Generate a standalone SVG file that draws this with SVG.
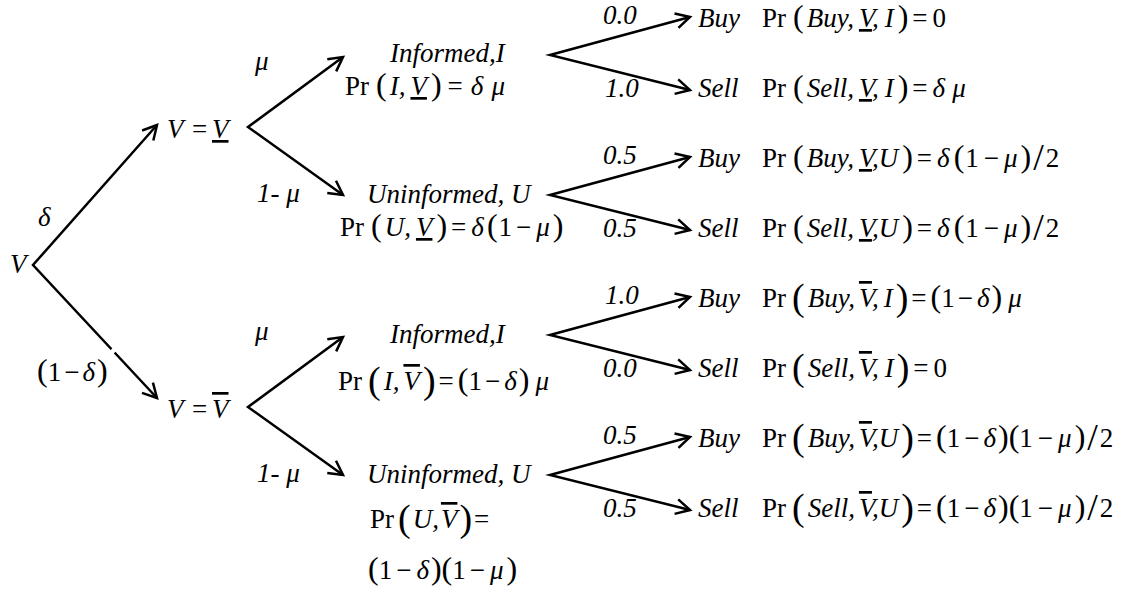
<svg xmlns="http://www.w3.org/2000/svg" width="1126" height="590" viewBox="0 0 1126 590">
<style>
text{font-family:"Liberation Serif","Times New Roman",serif;font-size:27px;fill:#000}
.i{font-style:italic}
.p{font-size:32px}
.pl{font-size:38px}
.ul{text-decoration:underline}
.ol{text-decoration:overline}
.c{fill:none;stroke:#000;stroke-width:2.5;stroke-linejoin:miter;marker-start:url(#ah);marker-end:url(#ah)}
</style>
<defs>
<marker id="ah" viewBox="-18 -10 22 20" refX="0" refY="0" markerWidth="22" markerHeight="20" markerUnits="userSpaceOnUse" orient="auto-start-reverse">
<path d="M-14,-7.5 L0,0 L-14,7.5" fill="none" stroke="#000" stroke-width="2.5"/>
</marker>
</defs>
<g id="connectors">
<path class="c" d="M157,125 L33,265 L157,398"/>
<line x1="111.4" y1="349.2" x2="114.6" y2="352.6" stroke="#fff" stroke-width="5"/>
<path class="c" d="M343,57 L248,127 L343,195"/>
<path class="c" d="M343,337 L248,407 L343,475"/>
<path class="c" d="M690,17 L550,55 L690,90"/>
<path class="c" d="M690,157 L550,195 L690,230"/>
<path class="c" d="M690,297 L550,335 L690,370"/>
<path class="c" d="M690,437 L550,475 L690,510"/>
</g>
<g id="edge-labels">
<text x="38" y="226" class="i">δ</text>
<text x="37" y="381"><tspan class="p">(</tspan>1<tspan dx="3">−</tspan><tspan class="i" dx="3">δ</tspan><tspan class="p" dx="2">)</tspan></text>
<text x="255" y="70" class="i">μ</text>
<text x="257" y="202" class="i">1- μ</text>
<text x="255" y="340" class="i">μ</text>
<text x="257" y="482" class="i">1- μ</text>
<text x="603" y="24" class="i">0.0</text>
<text x="605" y="97" class="i">1.0</text>
<text x="603" y="164" class="i">0.5</text>
<text x="603" y="237" class="i">0.5</text>
<text x="605" y="304" class="i">1.0</text>
<text x="603" y="377" class="i">0.0</text>
<text x="603" y="444" class="i">0.5</text>
<text x="603" y="517" class="i">0.5</text>
</g>
<g id="node-root"><text x="10" y="273" class="i">V</text></g>
<g id="node-vlow"><text y="138"><tspan x="167" class="i">V</tspan><tspan x="192">=</tspan><tspan x="212" class="i ul">V</tspan></text></g>
<g id="node-vhigh"><text y="418"><tspan x="167" class="i">V</tspan><tspan x="192">=</tspan><tspan x="212" class="i ol">V</tspan></text></g>
<g id="node-informed-low">
<text x="390" y="62" class="i">Informed,I</text>
<text x="345" y="95">Pr<tspan class="p" dx="7">(</tspan><tspan class="i" dx="3">I,</tspan><tspan class="i ul" dx="5">V</tspan><tspan class="p" dx="4">)</tspan><tspan dx="6">=</tspan><tspan class="i" dx="8">δ</tspan><tspan class="i" dx="8">μ</tspan></text>
</g>
<g id="node-uninformed-low">
<text x="367" y="203" class="i">Uninformed, U</text>
<text x="340" y="236">Pr<tspan class="p" dx="7">(</tspan><tspan class="i" dx="3">U,</tspan><tspan class="i ul" dx="5">V</tspan><tspan class="p" dx="4">)</tspan><tspan dx="4">=</tspan><tspan class="i" dx="5">δ</tspan><tspan class="p" dx="3">(</tspan><tspan dx="1">1</tspan><tspan dx="4">−</tspan><tspan class="i" dx="5">μ</tspan><tspan class="p" dx="3">)</tspan></text>
</g>
<g id="node-informed-high">
<text x="390" y="343" class="i">Informed,I</text>
<text x="338" y="390">Pr<tspan class="pl" dx="6" baseline-shift="-3">(</tspan><tspan class="i" dx="3">I,</tspan><tspan class="i ol" dx="4">V</tspan><tspan class="pl" dx="3" baseline-shift="-3">)</tspan><tspan dx="3">=</tspan><tspan class="p" dx="4">(</tspan>1<tspan dx="3">−</tspan><tspan class="i" dx="4">δ</tspan><tspan class="p" dx="2">)</tspan><tspan class="i" dx="6">μ</tspan></text>
</g>
<g id="node-uninformed-high">
<text x="367" y="483" class="i">Uninformed, U</text>
<text x="370" y="528">Pr<tspan class="pl" dx="4" baseline-shift="-3">(</tspan><tspan class="i" dx="2">U,</tspan><tspan class="i ol" dx="2">V</tspan><tspan class="pl" dx="2" baseline-shift="-3">)</tspan><tspan dx="2">=</tspan></text>
<text x="368" y="579"><tspan class="p">(</tspan>1<tspan dx="4">−</tspan><tspan class="i" dx="5">δ</tspan><tspan class="p" dx="2">)</tspan><tspan class="p">(</tspan>1<tspan dx="4">−</tspan><tspan class="i" dx="5">μ</tspan><tspan class="p" dx="3">)</tspan></text>
</g>
<g id="leaf-1">
<text x="698" y="27" class="i">Buy</text>
<text x="762" y="27">Pr<tspan class="p" dx="7">(</tspan><tspan class="i" dx="3">Buy,</tspan><tspan class="i ul" dx="5">V</tspan><tspan class="i">,</tspan><tspan class="i" dx="6">I</tspan><tspan class="p" dx="4">)</tspan><tspan dx="4">=</tspan><tspan dx="5">0</tspan></text>
</g>
<g id="leaf-2">
<text x="698" y="97" class="i">Sell</text>
<text x="762" y="97">Pr<tspan class="p" dx="7">(</tspan><tspan class="i" dx="3">Sell,</tspan><tspan class="i ul" dx="5">V</tspan><tspan class="i">,</tspan><tspan class="i" dx="6">I</tspan><tspan class="p" dx="4">)</tspan><tspan dx="4">=</tspan><tspan class="i" dx="5">δ</tspan><tspan class="i" dx="7">μ</tspan></text>
</g>
<g id="leaf-3">
<text x="698" y="167" class="i">Buy</text>
<text x="762" y="167">Pr<tspan class="p" dx="7">(</tspan><tspan class="i" dx="3">Buy,</tspan><tspan class="i ul" dx="5">V</tspan><tspan class="i">,U</tspan><tspan class="p" dx="4">)</tspan><tspan dx="4">=</tspan><tspan class="i" dx="5">δ</tspan><tspan class="p" dx="4">(</tspan><tspan dx="1">1</tspan><tspan dx="5">−</tspan><tspan class="i" dx="5">μ</tspan><tspan class="p" dx="3">)</tspan><tspan class="pl" dx="2" baseline-shift="-3">/</tspan><tspan dx="2">2</tspan></text>
</g>
<g id="leaf-4">
<text x="698" y="237" class="i">Sell</text>
<text x="762" y="237">Pr<tspan class="p" dx="7">(</tspan><tspan class="i" dx="3">Sell,</tspan><tspan class="i ul" dx="5">V</tspan><tspan class="i">,U</tspan><tspan class="p" dx="4">)</tspan><tspan dx="4">=</tspan><tspan class="i" dx="5">δ</tspan><tspan class="p" dx="4">(</tspan><tspan dx="1">1</tspan><tspan dx="5">−</tspan><tspan class="i" dx="5">μ</tspan><tspan class="p" dx="3">)</tspan><tspan class="pl" dx="2" baseline-shift="-3">/</tspan><tspan dx="2">2</tspan></text>
</g>
<g id="leaf-5">
<text x="698" y="307" class="i">Buy</text>
<text x="762" y="307">Pr<tspan class="pl" dx="6" baseline-shift="-3">(</tspan><tspan class="i" dx="3">Buy,</tspan><tspan class="i ol" dx="4">V</tspan><tspan class="i">,</tspan><tspan class="i" dx="5">I</tspan><tspan class="pl" dx="3" baseline-shift="-3">)</tspan><tspan dx="3">=</tspan><tspan class="p" dx="4">(</tspan>1<tspan dx="3">−</tspan><tspan class="i" dx="4">δ</tspan><tspan class="p" dx="2">)</tspan><tspan class="i" dx="6">μ</tspan></text>
</g>
<g id="leaf-6">
<text x="698" y="377" class="i">Sell</text>
<text x="762" y="377">Pr<tspan class="pl" dx="6" baseline-shift="-3">(</tspan><tspan class="i" dx="3">Sell,</tspan><tspan class="i ol" dx="4">V</tspan><tspan class="i">,</tspan><tspan class="i" dx="6">I</tspan><tspan class="pl" dx="3" baseline-shift="-3">)</tspan><tspan dx="4">=</tspan><tspan dx="5">0</tspan></text>
</g>
<g id="leaf-7">
<text x="698" y="447" class="i">Buy</text>
<text x="762" y="447">Pr<tspan class="pl" dx="6" baseline-shift="-3">(</tspan><tspan class="i" dx="3">Buy,</tspan><tspan class="i ol" dx="4">V</tspan><tspan class="i">,U</tspan><tspan class="pl" dx="3" baseline-shift="-3">)</tspan><tspan dx="3">=</tspan><tspan class="p" dx="4">(</tspan>1<tspan dx="4">−</tspan><tspan class="i" dx="4">δ</tspan><tspan class="p" dx="2">)</tspan><tspan class="p">(</tspan>1<tspan dx="5">−</tspan><tspan class="i" dx="5">μ</tspan><tspan class="p" dx="3">)</tspan><tspan class="pl" dx="2" baseline-shift="-3">/</tspan><tspan dx="2">2</tspan></text>
</g>
<g id="leaf-8">
<text x="698" y="517" class="i">Sell</text>
<text x="762" y="517">Pr<tspan class="pl" dx="6" baseline-shift="-3">(</tspan><tspan class="i" dx="3">Sell,</tspan><tspan class="i ol" dx="4">V</tspan><tspan class="i">,U</tspan><tspan class="pl" dx="3" baseline-shift="-3">)</tspan><tspan dx="3">=</tspan><tspan class="p" dx="4">(</tspan>1<tspan dx="4">−</tspan><tspan class="i" dx="4">δ</tspan><tspan class="p" dx="2">)</tspan><tspan class="p">(</tspan>1<tspan dx="5">−</tspan><tspan class="i" dx="5">μ</tspan><tspan class="p" dx="3">)</tspan><tspan class="pl" dx="2" baseline-shift="-3">/</tspan><tspan dx="2">2</tspan></text>
</g>
</svg>
